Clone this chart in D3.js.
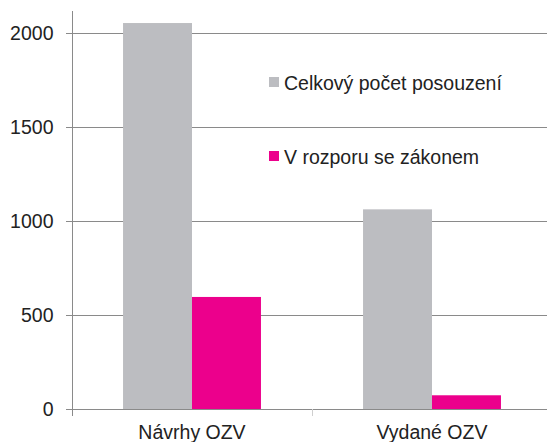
<!DOCTYPE html>
<html>
<head>
<meta charset="utf-8">
<script src="https://cdn.jsdelivr.net/npm/d3@7/dist/d3.min.js"></script>
<style>
  body { margin: 0; background: #fff; }
  text { font-family: "Liberation Sans", Arial, sans-serif; fill: #222; }
</style>
</head>
<body>
<script>
'use strict';

// data
const categories = ["Návrhy OZV", "Vydané OZV"];
const seriesNames = ["Celkový počet posouzení", "V rozporu se zákonem"];
const totalValues = [2053, 1062];
const conflictValues = [596, 73];
const yTicks = [0, 500, 1000, 1500, 2000];
const colors = ["#bcbdc1", "#ec008c"];

(function () {
  let width = 547, height = 442;
  let svg = d3.select("body").append("svg")
    .attr("width", width)
    .attr("height", height);

  // scales
  let yScale = d3.scaleLinear().domain([0, 2000]).range([409, 33]);
  let xScale = d3.scaleBand().domain(categories).range([72, 552]);
  let inner = d3.scaleBand().domain([0, 1])
    .range([0, xScale.bandwidth()])
    .paddingOuter(0.74)
    .paddingInner(0);

  // gridlines
  svg.append("g").selectAll("line")
    .data(yTicks)
    .enter()
    .append("line")
    .attr("x1", 66)
    .attr("x2", width)
    .attr("y1", (d) => Math.round(yScale(d)) + 0.5)
    .attr("y2", (d) => Math.round(yScale(d)) + 0.5)
    .attr("stroke", "#8a8a8a")
    .attr("stroke-width", 1);

  // y axis
  let yAxis = d3.axisLeft(yScale).tickValues(yTicks).tickFormat(d3.format("d"))
    .tickSize(0).tickPadding(19);
  let gy = svg.append("g")
    .attr("transform", "translate(72.5,0)")
    .call(yAxis);
  gy.select(".domain").remove();
  gy.selectAll("text")
    .style("font-size", "19.5px")
    .attr("fill", "#222");
  svg.append("line")
    .attr("x1", 72.5).attr("x2", 72.5)
    .attr("y1", 11).attr("y2", 416)
    .attr("stroke", "#8a8a8a");

  // category separator tick
  svg.append("line")
    .attr("x1", 312.5).attr("x2", 312.5)
    .attr("y1", 409).attr("y2", 416)
    .attr("stroke", "#cfcfcf");

  // bars
  let rows = categories.map((c, i) => ({ cat: c, vals: [totalValues[i], conflictValues[i]] }));
  let groups = svg.append("g").selectAll("g")
    .data(rows)
    .enter()
    .append("g")
    .attr("transform", (d) => "translate(" + xScale(d.cat) + ",0)");

  groups.selectAll("rect")
    .data((d) => d.vals.map((v, j) => ({ v: v, j: j })))
    .enter()
    .append("rect")
    .attr("x", (d) => inner(d.j))
    .attr("width", inner.bandwidth())
    .attr("y", (d) => yScale(d.v))
    .attr("height", (d) => yScale(0) - yScale(d.v))
    .attr("fill", (d) => colors[d.j]);

  // category labels
  svg.append("g").selectAll("text")
    .data(categories)
    .enter()
    .append("text")
    .attr("x", (d) => xScale(d) + xScale.bandwidth() / 2)
    .attr("y", 439)
    .attr("text-anchor", "middle")
    .style("font-size", "19.5px")
    .text((d) => d);

  // legend
  let legendY = [77, 151];
  let legend = svg.append("g").selectAll("g")
    .data(seriesNames)
    .enter()
    .append("g")
    .attr("transform", (d, i) => "translate(269," + legendY[i] + ")");
  legend.append("rect")
    .attr("width", 10)
    .attr("height", 10)
    .attr("fill", (d, i) => colors[i]);
  legend.append("text")
    .attr("x", 15)
    .attr("y", 13)
    .style("font-size", "19.5px")
    .text((d) => d);
})();
</script>
</body>
</html>
